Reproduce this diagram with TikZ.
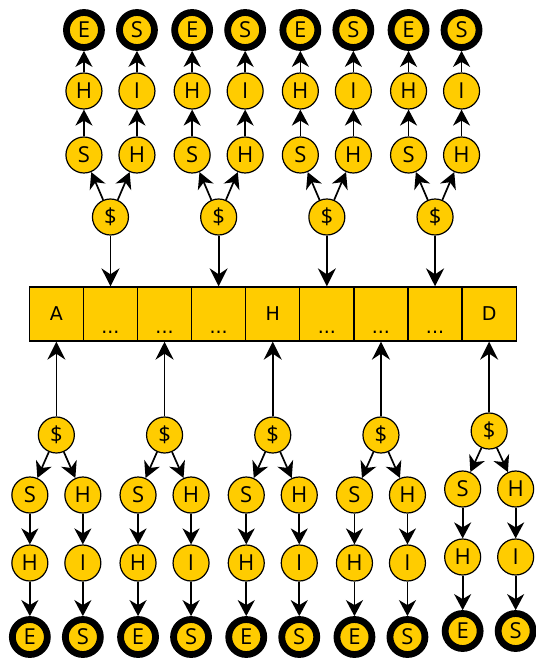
\documentclass[tikz,border=0pt]{standalone}
\usepackage{fontspec}
\newfontfamily\cf{Open Sans}
\newfontfamily\af{DejaVu Sans}
\usetikzlibrary{arrows.meta}
\definecolor{yel}{RGB}{255,204,0}
\begin{document}
\begin{tikzpicture}[x=1pt,y=-1pt,
 nd/.style={circle,draw,fill=yel,line width=1.2pt,minimum size=36pt,inner sep=0pt,font=\cf\fontsize{22}{22}\selectfont},
 term/.style={nd,line width=6.8pt,minimum size=35pt},
 cell/.style={draw,fill=yel,line width=1.3pt,minimum width=54.1pt,minimum height=54pt,inner sep=0pt,font=\af\fontsize{19}{19}\selectfont},
 arr/.style={-{Stealth[length=16pt,width=17pt,inset=5pt]},line width=1.7pt},
 larr/.style={-{Stealth[length=18pt,width=18pt,inset=6pt]},line width=1.7pt}]
\useasboundingbox (0,0) rectangle (535,658);
% array
\foreach \i/\t in {1/A,2/,3/,4/,5/H,6/,7/,8/,9/D}{
  \node[cell] (c\i) at ({29.3+54.1*(\i-0.5)},314) {\t};
}
\foreach \i in {2,3,4,6,7,8}{
  \node[font=\af\fontsize{19}{19}\selectfont,inner sep=0pt] (dd\i) at ([yshift=-19pt]c\i.center) {\raisebox{0pt}[0pt][0pt]{...}};
}
% top trees
\foreach \k in {1,...,4}{
  \pgfmathsetmacro\cx{29.3+54.1*(2*\k-0.5)}
  \pgfmathtruncatemacro\cc{2*\k}
  \node[nd] (td\k) at (\cx,217) {\$};
  \node[nd] (ts\k) at (\cx-26.5,155) {S};
  \node[nd] (th\k) at (\cx+26.5,155) {H};
  \node[nd] (tsh\k) at (\cx-26.5,91) {H};
  \node[nd] (thi\k) at (\cx+26.5,91) {I};
  \node[term] (tse\k) at (\cx-26.5,30) {E};
  \node[term] (ths\k) at (\cx+26.5,30) {S};
  \draw[arr] (td\k) -- (ts\k);
  \draw[arr] (td\k) -- (th\k);
  \draw[arr] (ts\k) -- (tsh\k);
  \draw[arr] (th\k) -- (thi\k);
  \draw[arr] (tsh\k) -- (tse\k);
  \draw[arr] (thi\k) -- (ths\k);
  \draw[larr] (td\k) -- (c\cc.north);
}
% bottom trees
\foreach \k/\dd/\dy in {1/435/0,2/435/0,3/435/0,4/435/0,5/431/-6}{
  \pgfmathsetmacro\cx{29.3+54.1*(2*\k-1.5)}
  \pgfmathtruncatemacro\cc{2*\k-1}
  \node[nd] (bd\k) at (\cx,\dd) {\$};
  \node[nd] (bs\k) at (\cx-26.5,495+\dy) {S};
  \node[nd] (bh\k) at (\cx+26.5,495+\dy) {H};
  \node[nd] (bsh\k) at (\cx-26.5,563+\dy) {H};
  \node[nd] (bhi\k) at (\cx+26.5,563+\dy) {I};
  \node[term] (bse\k) at (\cx-26.5,637+\dy) {E};
  \node[term] (bhs\k) at (\cx+26.5,637+\dy) {S};
  \draw[arr] (bd\k) -- (bs\k);
  \draw[arr] (bd\k) -- (bh\k);
  \draw[arr] (bs\k) -- (bsh\k);
  \draw[arr] (bh\k) -- (bhi\k);
  \draw[arr] (bsh\k) -- (bse\k);
  \draw[arr] (bhi\k) -- (bhs\k);
  \draw[larr] (bd\k) -- (c\cc.south);
}
\end{tikzpicture}
\end{document}
